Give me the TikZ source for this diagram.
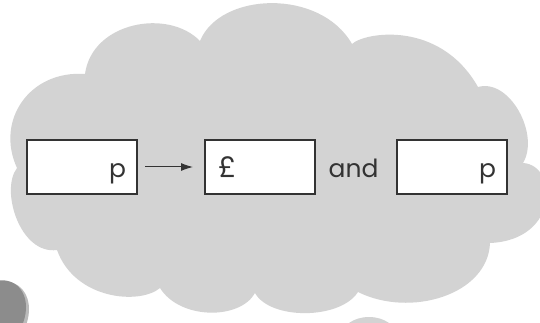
\documentclass[tikz,border=0pt]{standalone}
\usepackage{fontspec}
\setmainfont{Poppins}
\usetikzlibrary{arrows.meta}
\definecolor{cloudgray}{HTML}{D3D3D3}
\definecolor{blobgray}{HTML}{8C8C8C}
\definecolor{inkgray}{HTML}{333333}
\tikzset{
  numbox/.style={draw=inkgray, line width=1.4pt, fill=white, minimum width=110pt, minimum height=54pt,
    inner xsep=11pt, inner ysep=0pt, text width=88pt, text height=24pt, text depth=4pt,
    font=\fontsize{25}{25}\selectfont, text=inkgray, anchor=north west, outer sep=0pt},
  wordtext/.style={font=\fontsize{25}{25}\selectfont, text=inkgray, inner sep=0pt, anchor=base},
  connector/.style={draw=inkgray, line width=1pt, -{Latex[length=12pt,width=8pt]}}
}
\begin{document}
\begin{tikzpicture}[x=1pt,y=-1pt]
\useasboundingbox (0,0) rectangle (540,323);
% cloud
\fill[cloudgray] (85,74)
  .. controls (92,22) and (168,8) .. (200,41)
  .. controls (220,-8) and (320,-12) .. (352,44)
  .. controls (365,32) and (440,20) .. (478,87)
  .. controls (510,78) and (540,135) .. (523,163)
  .. controls (558,165) and (560,240) .. (490,243)
  .. controls (488,295) and (410,318) .. (358,292)
  .. controls (340,320) and (270,320) .. (255,293)
  .. controls (240,320) and (180,320) .. (160,288)
  .. controls (140,305) and (75,300) .. (57,250)
  .. controls (20,255) and (0,190) .. (17,168)
  .. controls (-5,120) and (30,70) .. (85,74) -- cycle;
% dark blob bottom left
\fill[blobgray!60] (-6,320) ellipse[x radius=31pt, y radius=42pt, rotate=-35];
\fill[blobgray] (-8,318) ellipse[x radius=30pt, y radius=41pt, rotate=-35];
% light blob bottom
\fill[cloudgray] (369,337) ellipse[x radius=28pt, y radius=20pt];
% boxes
\node[numbox, align=right] (b1) at (27,140) {p};
\node[numbox, align=left, inner xsep=13pt, text width=84pt] (b2) at (205,140) {\fontsize{29}{29}\selectfont £};
\node[numbox, align=right] (b3) at (397,140) {p};
\node[wordtext] (w) at (353.5,177) {and};
\draw[connector, shorten <=8pt, shorten >=12pt] (b1.east) -- (b2.west);
\end{tikzpicture}
\end{document}
